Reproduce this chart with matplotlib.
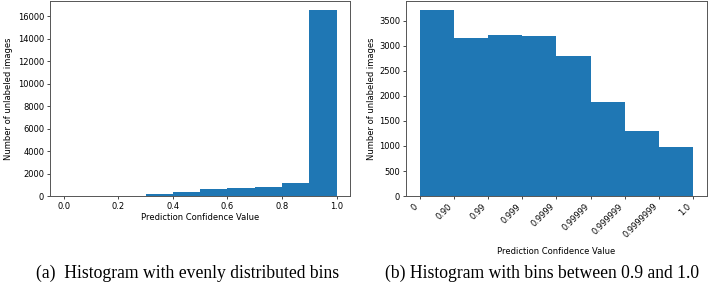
import numpy as np
import matplotlib.pyplot as plt

# (a) evenly distributed bins
even_edges = [0.0, 0.1, 0.2, 0.3, 0.4, 0.5, 0.6, 0.7, 0.8, 0.9, 1.0]
even_counts = [2, 6, 25, 180, 355, 650, 760, 830, 1150, 16500]

# (b) bins between 0.9 and 1.0 (equal-width positions)
fine_labels = ['0', '0.90', '0.99', '0.999', '0.9999', '0.99999', '0.999999', '0.9999999', '1.0']
fine_counts = [3700, 3150, 3220, 3185, 2790, 1880, 1290, 975]

fs = 6.0
bar_color = '#1f77b4'

fig = plt.figure(figsize=(7.08, 2.99), dpi=100)
ax1 = fig.add_axes([0.0706, 0.344, 0.424, 0.652])
ax2 = fig.add_axes([0.5734, 0.344, 0.425, 0.652])

centers = [(even_edges[i] + even_edges[i + 1]) / 2 for i in range(len(even_counts))]
ax1.hist(centers, bins=even_edges, weights=even_counts, color=bar_color)
ax1.set_xlabel('Prediction Confidence Value', fontsize=fs, labelpad=1.8)
ax1.set_ylabel('Number of unlabeled images', fontsize=fs, labelpad=3.5)

pos = np.arange(len(fine_counts)) + 0.5
ax2.hist(pos, bins=np.arange(len(fine_labels)), weights=fine_counts, color=bar_color)
ax2.set_xticks(np.arange(len(fine_labels)))
ax2.set_xticklabels(fine_labels, rotation=45, ha='right')
ax2.set_xlabel('Prediction Confidence Value', fontsize=fs, labelpad=5)
ax2.set_ylabel('Number of unlabeled images', fontsize=fs, labelpad=2.4)

for ax in (ax1, ax2):
    ax.tick_params(labelsize=fs, length=2.2, width=0.5, pad=2)
    for s in ax.spines.values():
        s.set_linewidth(0.7)
        s.set_color('#555555')

fig.text(0.265, 0.087, '(a)  Histogram with evenly distributed bins', ha='center', va='center',
         fontsize=12.7, family='Liberation Serif')
fig.text(0.765, 0.087, '(b) Histogram with bins between 0.9 and 1.0', ha='center', va='center',
         fontsize=12.7, family='Liberation Serif')

fig.savefig('out.png', dpi=100)
